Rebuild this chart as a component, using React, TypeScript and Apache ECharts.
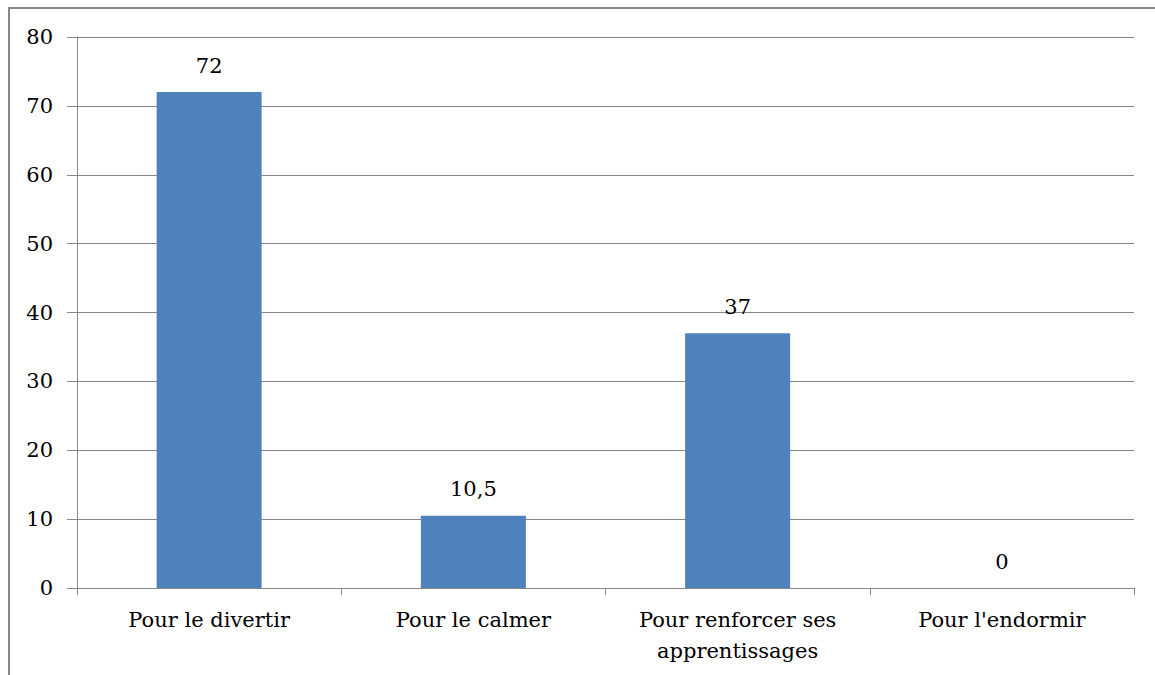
import React, { useEffect, useRef } from "react";
import * as echarts from "echarts";

const categories = [
  "Pour le divertir",
  "Pour le calmer",
  "Pour renforcer ses\napprentissages",
  "Pour l'endormir",
];
const values = [72, 10.5, 37, 0];
const yMin = 0;
const yMax = 80;
const yInterval = 10;

const FONT = "DejaVu Serif";
const FS = 21;

export default function App() {
  const ref = useRef<HTMLDivElement>(null);
  useEffect(() => {
    if (!ref.current) return;
    const chart = echarts.init(ref.current, undefined, { renderer: "svg" });
    chart.setOption({
      animation: false,
      backgroundColor: "#ffffff",
      textStyle: { fontFamily: FONT },
      graphic: [
        {
          type: "rect",
          shape: { x: 9, y: 8, width: 1300, height: 800 },
          style: { fill: "none", stroke: "#878787", lineWidth: 2 },
          silent: true,
          z: 100,
        },
      ],
      grid: { left: 77, top: 37, right: 21, bottom: 87, containLabel: false },
      xAxis: {
        type: "category",
        data: categories,
        axisLine: { show: true, lineStyle: { color: "#868686", width: 1 } },
        axisTick: {
          show: true,
          alignWithLabel: false,
          length: 7,
          lineStyle: { color: "#868686" },
        },
        axisLabel: {
          color: "#000",
          fontFamily: FONT,
          fontSize: FS,
          lineHeight: 31,
          margin: 16,
          interval: 0,
        },
        splitLine: { show: false },
      },
      yAxis: {
        type: "value",
        min: yMin,
        max: yMax,
        interval: yInterval,
        axisLine: { show: true, lineStyle: { color: "#868686", width: 1 } },
        axisTick: { show: true, length: 10, lineStyle: { color: "#868686" } },
        axisLabel: {
          color: "#000",
          fontFamily: FONT,
          fontSize: FS,
          margin: 24,
          formatter: (v: number) => String(v),
        },
        splitLine: { show: true, lineStyle: { color: "#868686", width: 1 } },
      },
      series: [
        {
          type: "bar",
          data: values,
          barWidth: 105,
          itemStyle: { color: "#4F81BD" },
          label: {
            show: true,
            position: "top",
            distance: 16,
            color: "#000",
            fontFamily: FONT,
            fontSize: FS,
            formatter: (p: any) => String(p.value).replace(".", ","),
          },
        },
      ],
    });
    return () => chart.dispose();
  }, []);
  return (
    <div
      ref={ref}
      style={{ position: "absolute", left: 0, top: 0, width: 1155, height: 675 }}
    />
  );
}
